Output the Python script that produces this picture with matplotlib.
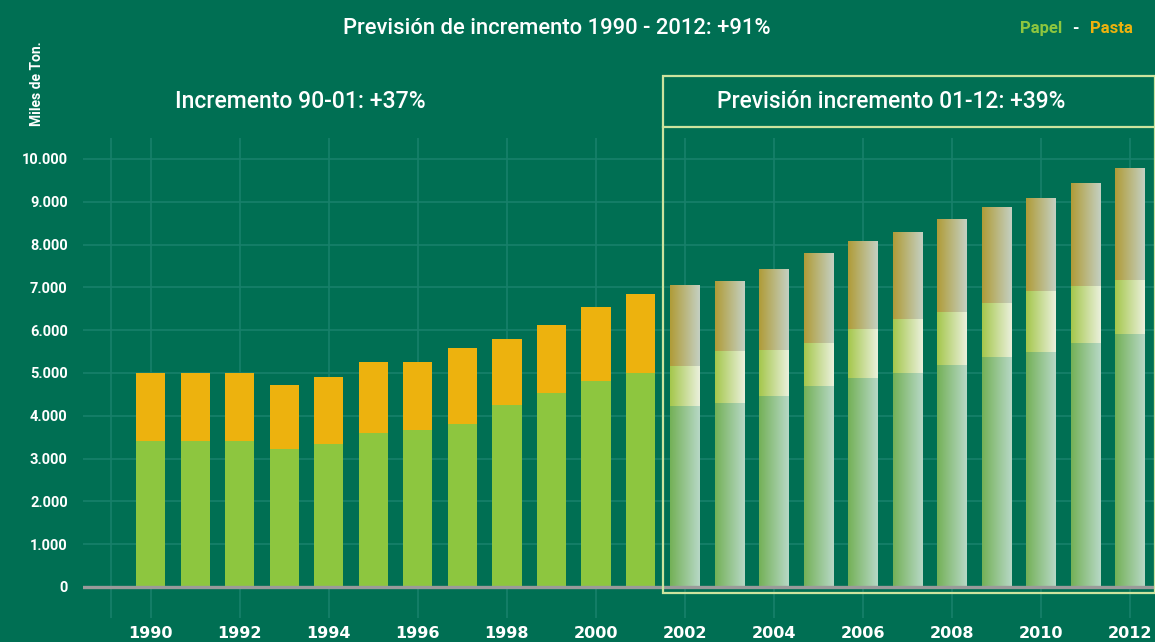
import numpy as np
import matplotlib
matplotlib.use("Agg")
import matplotlib.pyplot as plt
from matplotlib.colors import LinearSegmentedColormap
from matplotlib.patches import Rectangle

# historical data (miles de toneladas)
years_hist = [1990, 1991, 1992, 1993, 1994, 1995, 1996, 1997, 1998, 1999, 2000, 2001]
papel_hist = [3400, 3400, 3400, 3220, 3340, 3600, 3670, 3810, 4250, 4530, 4810, 5000]
total_hist = [5000, 5000, 5000, 4720, 4910, 5260, 5260, 5580, 5790, 6120, 6540, 6850]

# forecast 2002-2012
years_prev = [2002, 2003, 2004, 2005, 2006, 2007, 2008, 2009, 2010, 2011, 2012]
papel_prev = [4230, 4300, 4460, 4700, 4880, 5000, 5190, 5370, 5490, 5700, 5910]
mid_prev = [5160, 5510, 5540, 5700, 6030, 6260, 6430, 6640, 6920, 7030, 7170]
total_prev = [7030, 7130, 7410, 7780, 8080, 8290, 8580, 8880, 9070, 9420, 9770]

yticks = [0, 1000, 2000, 3000, 4000, 5000, 6000, 7000, 8000, 9000, 10000]
ytick_labels = ["0", "1.000", "2.000", "3.000", "4.000", "5.000", "6.000",
                "7.000", "8.000", "9.000", "10.000"]
xtick_years = list(range(1990, 2013, 2))

BG = "#006F53"
GRID = "#18806A"
PAPEL = "#8DC63F"
PASTA = "#EDB20E"
FONT = ["Roboto", "DejaVu Sans"]

fig = plt.figure(figsize=(11.55, 6.42), dpi=100, facecolor=BG)
ax = fig.add_axes([0.0719, 0.0374, 0.9281, 0.7477])
ax.set_facecolor(BG)
for s in ax.spines.values():
    s.set_visible(False)

# grid
for y in yticks:
    ax.axhline(y, color=GRID, lw=1.2, zorder=0)
for x in xtick_years:
    ax.axvline(x, color=GRID, lw=1.2, zorder=0)
ax.axvline(1989.1, color=GRID, lw=1.2, zorder=0)
ax.axhline(0, color="#9A9A9A", lw=2.4, zorder=3)

w = 0.66
# historical bars
ax.bar(years_hist, papel_hist, width=w, color=PAPEL, zorder=2)
ax.bar(years_hist, np.array(total_hist) - np.array(papel_hist), width=w,
       bottom=papel_hist, color=PASTA, zorder=2)

# forecast bars with horizontal gradient
cm_papel = LinearSegmentedColormap.from_list("p", ["#74B157", "#B7D8C6"])
cm_mid = LinearSegmentedColormap.from_list("m", ["#A5C74C", "#EAF0DC"])
cm_top = LinearSegmentedColormap.from_list("t", ["#B09C38", "#C4D0C2"])
grad = np.linspace(0, 1, 64).reshape(1, -1)
for yr, p, m, t in zip(years_prev, papel_prev, mid_prev, total_prev):
    for lo, hi, cm in [(0, p, cm_papel), (p, m, cm_mid), (m, t, cm_top)]:
        ax.imshow(grad, cmap=cm, aspect="auto", extent=[yr - w / 2, yr + w / 2, lo, hi],
                  zorder=2, interpolation="bilinear")
ax.set_xlim(1988.48, 2012.56)
ax.set_ylim(-724, 10490)

# forecast box
box_col = "#CDE39E"
ax.add_patch(Rectangle((2001.51, -140), 11.05, 12080, fill=False, ec=box_col,
                       lw=1.6, clip_on=False, zorder=4))
ax.plot([2001.51, 2012.56], [10748, 10748], color=box_col, lw=1.6, clip_on=False, zorder=4)

# ticks
ax.set_yticks(yticks)
ax.set_yticklabels(ytick_labels, fontfamily=FONT, fontweight="bold", fontsize=10.5,
                   fontstretch="condensed", color="white")
ax.set_xticks(xtick_years)
ax.set_xticklabels([str(y) for y in xtick_years], fontfamily="DejaVu Sans", fontweight="bold",
                   fontsize=11.5, color="white")
ax.tick_params(axis="y", length=0, pad=11)
ax.tick_params(axis="x", length=0, pad=6)

# texts
fig.text(0.482, 0.956, "Previsión de incremento 1990 - 2012: +91%", ha="center", va="center",
         color="white", fontsize=15.8, fontfamily=FONT, fontweight="medium")
fig.text(0.2602, 0.842, "Incremento 90-01: +37%", ha="center", va="center",
         color="white", fontsize=16.6, fontfamily=FONT, fontweight="medium")
fig.text(0.772, 0.842, "Previsión incremento 01-12: +39%", ha="center", va="center",
         color="white", fontsize=16.4, fontfamily=FONT, fontweight="medium")
fig.text(0.032, 0.870, "Miles de Ton.", rotation=90, ha="center", va="center",
         color="white", fontsize=10, fontweight="bold", fontfamily=FONT)
fig.text(0.901, 0.955, "Papel", ha="center", va="center", color=PAPEL,
         fontsize=12, fontweight="bold", fontfamily=FONT)
fig.text(0.931, 0.955, "-", ha="center", va="center", color="white",
         fontsize=12, fontweight="bold", fontfamily=FONT)
fig.text(0.962, 0.955, "Pasta", ha="center", va="center", color=PASTA,
         fontsize=12, fontweight="bold", fontfamily=FONT)

fig.savefig("out.png", dpi=100, facecolor=BG)
